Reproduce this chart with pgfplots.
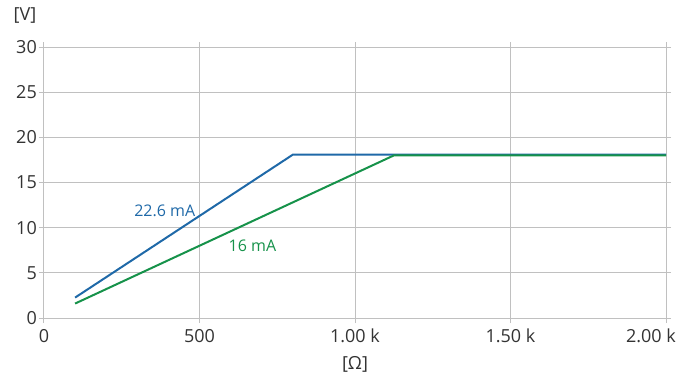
\documentclass[border=0pt]{standalone}
\usepackage{fontspec}
\setmainfont{Open Sans}
\usepackage{pgfplots}
\usetikzlibrary{calc}
\pgfplotsset{compat=1.18}
\definecolor{lblue}{HTML}{1F69A8}
\definecolor{lgreen}{HTML}{16924A}
\definecolor{gridc}{HTML}{C0C0C0}
\definecolor{txt}{HTML}{333333}
\begin{document}
\fontsize{18bp}{21bp}\selectfont
\begin{tikzpicture}[x=1bp,y=1bp]
\begin{axis}[
  scale only axis,
  width=622bp, height=271bp,
  xmin=0, xmax=2000, ymin=0, ymax=30,
  xtick={0,500,1000,1500},
  xticklabels={0,500,1.00 k,1.50 k},
  extra x ticks={2000},
  extra x tick labels={2.00 k},
  extra x tick style={xticklabel style={anchor=north east, xshift=12bp}},
  ytick={0,5,10,15,20,25,30},
  grid=major,
  major grid style={gridc, line width=1bp},
  axis line style={gridc, line width=1bp},
  tick style={gridc, line width=1bp},
  tick align=outside,
  major tick length=5bp,
  /pgf/number format/assume math mode=true,
  ticklabel style={font=\fontsize{18bp}{21bp}\selectfont, text=txt, inner sep=2bp},
  xticklabel style={yshift=-4bp},
  yticklabel style={xshift=0bp},
  clip=false,
]
\addplot[lblue, line width=2bp] coordinates {(100,2.26) (800,18.08) (2000,18.08)};
\addplot[lgreen, line width=2bp] coordinates {(100,1.6) (1125,18.0) (2000,18.0)};
\node[text=lblue, anchor=east, font=\fontsize{16bp}{18bp}\selectfont] at (axis cs:506,11.9) {22.6 mA};
\node[text=lgreen, anchor=west, font=\fontsize{16bp}{18bp}\selectfont] at (axis cs:574,8.0) {16 mA};
\coordinate (O) at (rel axis cs:0,0);
\end{axis}
\pgfresetboundingbox
\path (O) ++(-44,-58) coordinate (LL);
\path (O) ++(649,318) coordinate (UR);
\useasboundingbox (LL) rectangle (UR);
\node[text=txt, font=\fontsize{18bp}{21bp}\selectfont] at ($(O)+(-19,303)$) {[V]};
\node[text=txt, font=\fontsize{18bp}{21bp}\selectfont] at ($(O)+(311,-46)$) {[Ω]};
\end{tikzpicture}
\end{document}
